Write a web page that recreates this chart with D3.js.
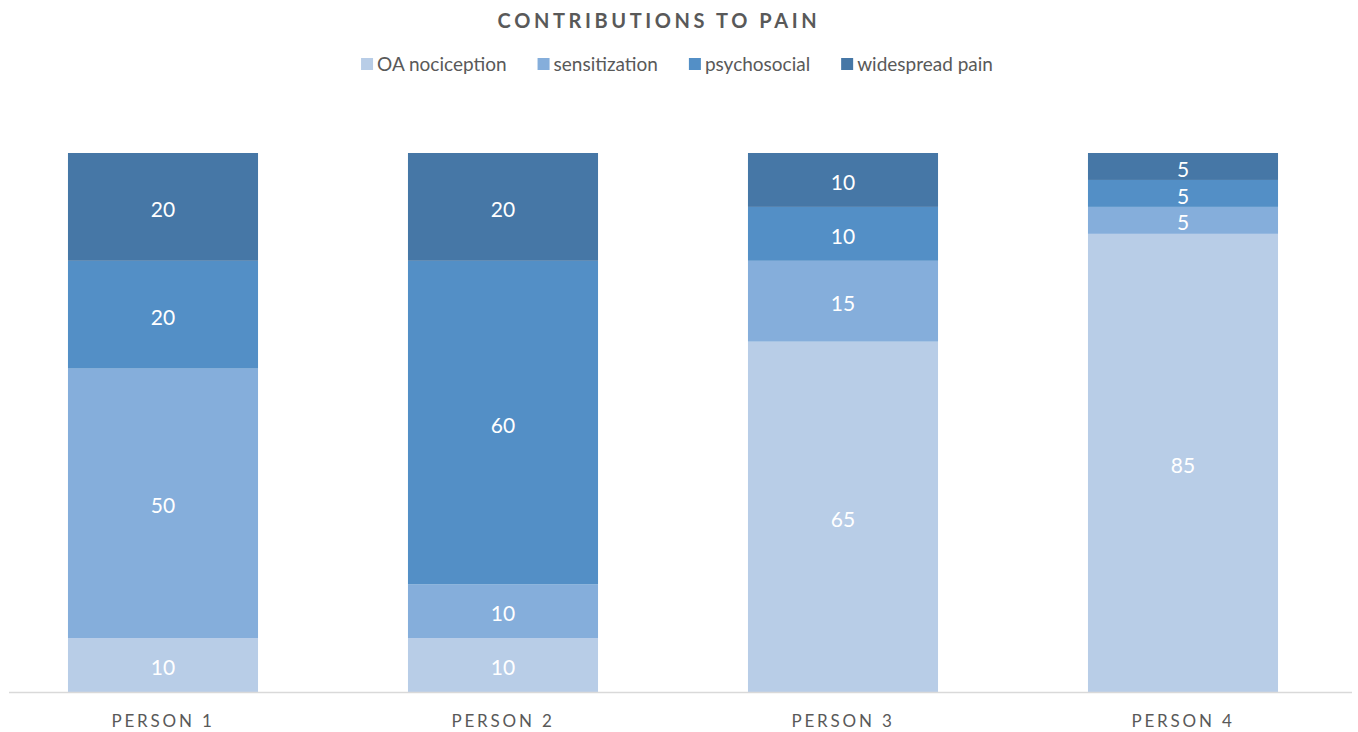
<!DOCTYPE html>
<html lang="en">
<head>
<meta charset="UTF-8" />
<title>Contributions to pain</title>
<script src="https://d3js.org/d3.v7.min.js"></script>
<style>
  body { margin: 0; background: #fff; }
  svg { display: block; font-family: Lato, "Open Sans", sans-serif; }
</style>
</head>
<body>
<div class="chart"></div>
<script>
  // data
  const people = ["PERSON 1", "PERSON 2", "PERSON 3", "PERSON 4"];
  const seriesNames = ["OA nociception", "sensitization", "psychosocial", "widespread pain"];
  const oaNociception = [10, 10, 65, 85];
  const sensitization = [50, 10, 15, 5];
  const psychosocial = [20, 60, 10, 5];
  const widespreadPain = [20, 20, 10, 5];
  const colors = ["#b8cde7", "#85aedb", "#538fc6", "#4677a6"];

  const width = 1358, height = 732;
  const svg = d3.select(".chart").append("svg")
    .attr("width", width)
    .attr("height", height);

  const rows = people.map((p, i) => ({
    person: p,
    "OA nociception": oaNociception[i],
    "sensitization": sensitization[i],
    "psychosocial": psychosocial[i],
    "widespread pain": widespreadPain[i]
  }));
  const stacked = d3.stack().keys(seriesNames)(rows);

  const x = d3.scaleBand()
    .domain(people)
    .range([-7, 1353])
    .paddingInner(0.441)
    .paddingOuter(0.2205);
  const y = d3.scaleLinear().domain([0, 100]).range([692, 153]);
  const color = d3.scaleOrdinal().domain(seriesNames).range(colors);

  // title
  svg.append("text")
    .attr("x", 659).attr("y", 28)
    .attr("text-anchor", "middle")
    .attr("font-size", 20)
    .attr("font-weight", "bold")
    .attr("letter-spacing", 3.6)
    .attr("fill", "#595959")
    .text("CONTRIBUTIONS TO PAIN");

  // legend
  const legend = svg.append("g");
  let lx = 0;
  seriesNames.forEach(name => {
    const item = legend.append("g").attr("transform", `translate(${lx},0)`);
    item.append("rect")
      .attr("x", 0).attr("y", -13)
      .attr("width", 12).attr("height", 12)
      .attr("fill", color(name));
    const t = item.append("text")
      .attr("x", 16).attr("y", 0)
      .attr("font-size", 19)
      .attr("fill", "#595959")
      .text(name);
    lx += 16 + t.node().getComputedTextLength() + 31;
  });
  const legendW = lx - 31;
  legend.attr("transform", `translate(${677 - legendW / 2},71)`);

  // bars
  const layer = svg.append("g").selectAll("g")
    .data(stacked)
    .join("g")
    .attr("fill", d => color(d.key));

  layer.selectAll("rect")
    .data(d => d)
    .join("rect")
    .attr("x", d => x(d.data.person))
    .attr("width", x.bandwidth())
    .attr("y", d => y(d[1]))
    .attr("height", d => y(d[0]) - y(d[1]));

  layer.selectAll("text")
    .data(d => d)
    .join("text")
    .attr("x", d => x(d.data.person) + x.bandwidth() / 2)
    .attr("y", d => (y(d[0]) + y(d[1])) / 2)
    .attr("dy", "0.48em")
    .attr("text-anchor", "middle")
    .attr("font-size", 21)
    .attr("fill", "#fff")
    .text(d => d[1] - d[0]);

  // axis
  svg.append("line")
    .attr("x1", 9).attr("x2", 1352)
    .attr("y1", 692.5).attr("y2", 692.5)
    .attr("stroke", "#d9d9d9")
    .attr("stroke-width", 1.5);

  svg.append("g").selectAll("text")
    .data(people)
    .join("text")
    .attr("x", d => x(d) + x.bandwidth() / 2)
    .attr("y", 727)
    .attr("text-anchor", "middle")
    .attr("font-size", 17)
    .attr("letter-spacing", 2.8)
    .attr("fill", "#595959")
    .text(d => d);
</script>
</body>
</html>
